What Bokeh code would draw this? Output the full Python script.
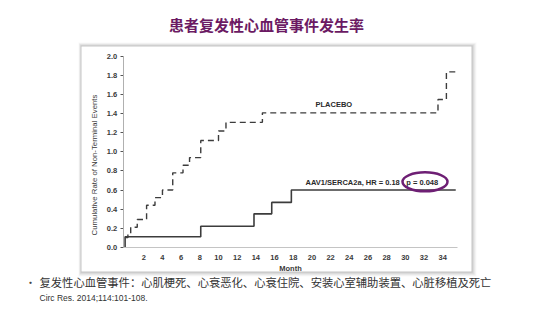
from bokeh.plotting import figure
from bokeh.models import Range1d, LinearAxis, FixedTicker, PrintfTickFormatter
from bokeh.core.properties import value
from bokeh.embed import file_html
from bokeh.resources import INLINE

# ---------------- data ----------------
title_text = "患者复发性心血管事件发生率"
placebo_months = [0, 0.3, 0.6, 1.3, 2.3, 3.2, 4.0, 5.1, 6.2, 6.9, 8.1, 10.0, 10.8, 14.7, 33.5, 34.4, 35.4]
placebo_rate = [0.10, 0.14, 0.21, 0.29, 0.44, 0.52, 0.60, 0.78, 0.86, 0.94, 1.12, 1.22, 1.31, 1.41, 1.55, 1.84, 1.84]
serca_months = [0, 0, 8.1, 13.8, 15.7, 17.8, 35.4]
serca_rate = [0.0, 0.11, 0.22, 0.35, 0.47, 0.60, 0.60]
x_ticks = [2, 4, 6, 8, 10, 12, 14, 16, 18, 20, 22, 24, 26, 28, 30, 32, 34]
y_ticks = [0.0, 0.2, 0.4, 0.6, 0.8, 1.0, 1.2, 1.4, 1.6, 1.8, 2.0]
placebo_label = "PLACEBO"
serca_label = "AAV1/SERCA2a, HR = 0.18"
p_label = "p = 0.048"
x_label = "Month"
y_label = "Cumulative Rate of Non-Terminal Events"
bullet_text = "复发性心血管事件：心肌梗死、心衰恶化、心衰住院、安装心室辅助装置、心脏移植及死亡"
cite_text = "Circ Res. 2014;114:101-108."

# ---------------- layout (pixel geometry) ----------------
W, H = 541, 331
X0, SX = 124.6, 9.34   # pixel of month 0, px per month
Y0, SY = 246.7, 95.3   # pixel of rate 0, px per unit


def dx(px):
    return (px - X0) / SX


def dy(py):
    return (Y0 - py) / SY


p = figure(width=W, height=H, min_border=0, title=None,
           x_range=Range1d(dx(0), dx(W)), y_range=Range1d(dy(H), dy(0)),
           x_axis_location=None, y_axis_location=None,
           toolbar_location=None, output_backend="svg",
           background_fill_color="white", border_fill_color="white",
           outline_line_color=None)
p.grid.visible = False

# panel with soft shadow
PL, PR, PT, PB = 81, 471, 46, 271
for i, a in [(5, 0.05), (4, 0.07), (3, 0.09), (2, 0.12), (1, 0.16)]:
    p.quad(left=dx(PL - i * 0.6), right=dx(PR + i), top=dy(PT - i * 0.8), bottom=dy(PB + i),
           fill_color="#707070", fill_alpha=a, line_color=None)
p.quad(left=dx(PL), right=dx(PR), top=dy(PT), bottom=dy(PB),
       fill_color="white", line_color=None)

# axes
font = "Liberation Sans"
xa = LinearAxis(fixed_location=0, bounds=(dx(122.7), dx(457)),
                ticker=FixedTicker(ticks=x_ticks), axis_label=x_label)
xa.axis_line_color = "#c4c4c4"
xa.major_tick_line_color = None
xa.minor_tick_line_color = None
xa.major_label_standoff = 2
xa.major_label_text_font = font
xa.major_label_text_font_size = "7.5px"
xa.major_label_text_font_style = "bold"
xa.major_label_text_color = "#3a3a3a"
xa.axis_label_text_font = font
xa.axis_label_text_font_size = "7.5px"
xa.axis_label_text_font_style = "bold"
xa.axis_label_text_color = "#3a3a3a"
xa.axis_label_standoff = 0
p.add_layout(xa, "below")

ya = LinearAxis(fixed_location=dx(122.7), bounds=(-0.28, 2.0),
                ticker=FixedTicker(ticks=y_ticks),
                formatter=PrintfTickFormatter(format="%.1f"), axis_label=y_label)
ya.axis_line_color = None
ya.major_tick_line_color = "#555555"
ya.major_tick_out = 3
ya.major_tick_in = 0
ya.minor_tick_line_color = None
ya.major_label_standoff = 3
ya.major_label_text_font = font
ya.major_label_text_font_size = "7.5px"
ya.major_label_text_font_style = "bold"
ya.major_label_text_color = "#3a3a3a"
ya.axis_label_text_font = font
ya.axis_label_text_font_size = "7.8px"
ya.axis_label_text_font_style = "normal"
ya.axis_label_text_color = "#3a3a3a"
ya.axis_label_standoff = 5
p.add_layout(ya, "left")

ya2 = LinearAxis(fixed_location=dx(122.7), bounds=(0.0, 2.0),
                 ticker=FixedTicker(ticks=[]), major_label_text_font_size="0px")
ya2.axis_line_color = "#b0b0b0"
ya2.major_tick_line_color = None
ya2.minor_tick_line_color = None
p.add_layout(ya2, "left")

# data
p.step(placebo_months, placebo_rate, mode="after", line_color="#3c3c3c",
       line_width=1.4, line_dash="6 4")
p.step(serca_months, serca_rate, mode="after", line_color="#3c3c3c", line_width=1.6)

# in-chart labels
p.text(x=[dx(333.3)], y=[dy(104.3)], text=[placebo_label], text_font=value(font),
       text_font_size="7.5px", text_font_style="bold", text_color="#2a2a2a",
       text_align="center", text_baseline="middle")
p.text(x=[dx(305)], y=[dy(181.7)], text=[serca_label], text_font=value(font),
       text_font_size="7.5px", text_font_style="bold", text_color="#2a2a2a",
       text_align="left", text_baseline="middle")
p.text(x=[dx(421.7)], y=[dy(181.7)], text=[p_label], text_font=value(font),
       text_font_size="7.5px", text_font_style="bold", text_color="#2a2a2a",
       text_align="center", text_baseline="middle")
p.ellipse(x=[dx(424.5)], y=[dy(181.3)], width=45 / SX, height=19 / SY,
          fill_color=None, line_color="#6e1f74", line_width=2.5)

# title and notes
p.text(x=[dx(266)], y=[dy(24)], text=[title_text], text_font=value("Noto Sans CJK SC"),
       text_font_size="15px", text_font_style="bold", text_color="#6b1a63",
       text_align="center", text_baseline="middle")
p.text(x=[dx(30)], y=[dy(281)], text=["•"], text_font=value("Noto Sans CJK SC"),
       text_font_size="11px", text_color="#444444",
       text_align="center", text_baseline="middle")
p.text(x=[dx(39)], y=[dy(281)], text=[bullet_text], text_font=value("Noto Sans CJK SC"),
       text_font_size="11.3px", text_color="#333333",
       text_align="left", text_baseline="middle")
p.text(x=[dx(39)], y=[dy(297)], text=[cite_text], text_font=value(font),
       text_font_size="8.5px", text_color="#333333",
       text_align="left", text_baseline="middle")

open("out.html", "w").write(file_html(p, INLINE))
